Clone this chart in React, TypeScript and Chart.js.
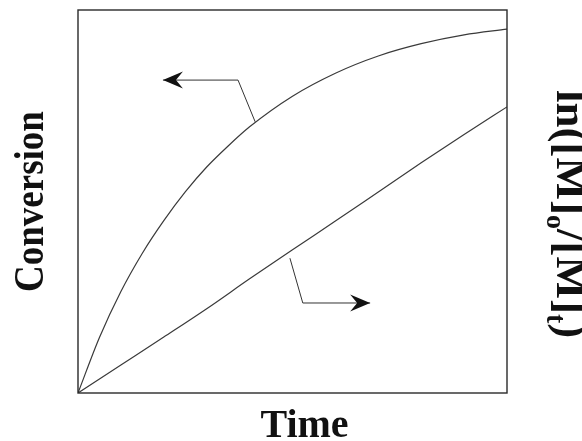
import React, { useEffect, useRef } from "react";
import { Chart, registerables } from "chart.js";

Chart.register(...registerables);

// ---- data ----
const convTime = [0, 0.5, 1, 1.5, 2, 2.5, 3, 3.5, 4, 5, 6, 7, 8, 9, 10];
const conversion = [0, 0.145, 0.265, 0.365, 0.45, 0.525, 0.59, 0.645, 0.695, 0.775, 0.835, 0.88, 0.912, 0.935, 0.95];
const lnTime = [0, 1, 2, 3, 4, 5, 6, 7, 8, 9, 10];
const lnRatio = [0, 0.073, 0.146, 0.22, 0.298, 0.374, 0.449, 0.525, 0.601, 0.675, 0.747];

// arrow annotations (data coordinates: curve point -> elbow -> tip)
const convArrowX = [4.13, 3.73, 1.98];
const convArrowY = [0.708, 0.817, 0.817];
const lnArrowX = [4.94, 5.24, 6.81];
const lnArrowY = [0.352, 0.235, 0.235];

const xTitle = "Time";
const yTitle = "Conversion";
const y2TitleParts = [
  { text: "ln([M]", sub: false },
  { text: "o", sub: true },
  { text: "/[M]", sub: false },
  { text: "t", sub: true },
  { text: ")", sub: false },
];

const FONT = '"Liberation Serif", "Times New Roman", serif';

function drawArrow(chart: any, xs: number[], ys: number[], yAxis: string) {
  const ctx = chart.ctx as CanvasRenderingContext2D;
  const sx = chart.scales.x;
  const sy = chart.scales[yAxis];
  const pts = xs.map((v, i) => [sx.getPixelForValue(v), sy.getPixelForValue(ys[i])]);
  ctx.save();
  ctx.strokeStyle = "#333";
  ctx.lineWidth = 1;
  ctx.beginPath();
  ctx.moveTo(pts[0][0], pts[0][1]);
  for (let i = 1; i < pts.length; i++) ctx.lineTo(pts[i][0], pts[i][1]);
  ctx.stroke();
  const n = pts.length;
  const [tx, ty] = pts[n - 1];
  const [px, py] = pts[n - 2];
  const ang = Math.atan2(ty - py, tx - px);
  ctx.translate(tx, ty);
  ctx.rotate(ang);
  ctx.fillStyle = "#111";
  ctx.beginPath();
  ctx.moveTo(0, 0);
  ctx.lineTo(-20, -8.5);
  ctx.lineTo(-13, 0);
  ctx.lineTo(-20, 8.5);
  ctx.closePath();
  ctx.fill();
  ctx.restore();
}

const decorPlugin = {
  id: "decor",
  afterDatasetsDraw(chart: any) {
    const ctx = chart.ctx as CanvasRenderingContext2D;
    const a = chart.chartArea;
    ctx.save();
    ctx.strokeStyle = "#2a2a2a";
    ctx.lineWidth = 1.4;
    ctx.strokeRect(a.left, a.top, a.right - a.left, a.bottom - a.top);
    ctx.restore();

    drawArrow(chart, convArrowX, convArrowY, "y");
    drawArrow(chart, lnArrowX, lnArrowY, "y2");

    ctx.save();
    ctx.fillStyle = "#111";
    // x title
    ctx.font = `bold 40px ${FONT}`;
    ctx.textAlign = "center";
    ctx.textBaseline = "alphabetic";
    ctx.fillText(xTitle, (a.left + a.right) / 2 + 12, 437);
    // left y title
    ctx.save();
    ctx.translate(43, (a.top + a.bottom) / 2 + 0);
    ctx.rotate(-Math.PI / 2);
    ctx.scale(0.86, 1);
    ctx.font = `bold 43px ${FONT}`;
    ctx.fillText(yTitle, 0, 0);
    ctx.restore();
    // right y title (rotated clockwise, with subscripts)
    ctx.save();
    ctx.translate(557, 90);
    ctx.rotate(Math.PI / 2);
    ctx.textAlign = "left";
    let cx = 0;
    for (const p of y2TitleParts) {
      ctx.font = p.sub ? `bold 28px ${FONT}` : `bold 45px ${FONT}`;
      ctx.fillText(p.text, cx, p.sub ? 10 : 0);
      cx += ctx.measureText(p.text).width;
    }
    ctx.restore();
    ctx.restore();
  },
};

export default function App() {
  const ref = useRef<HTMLCanvasElement | null>(null);
  useEffect(() => {
    document.body.style.margin = "0";
    if (!ref.current) return;
    const chart = new Chart(ref.current, {
      type: "line",
      data: {
        datasets: [
          {
            label: "Conversion",
            data: convTime.map((t, i) => ({ x: t, y: conversion[i] })),
            yAxisID: "y",
            borderColor: "#3a3a3a",
            borderWidth: 1.2,
            pointRadius: 0,
            cubicInterpolationMode: "monotone",
            fill: false,
          },
          {
            label: "ln([M]o/[M]t)",
            data: lnTime.map((t, i) => ({ x: t, y: lnRatio[i] })),
            yAxisID: "y2",
            borderColor: "#3a3a3a",
            borderWidth: 1.2,
            pointRadius: 0,
            cubicInterpolationMode: "monotone",
            fill: false,
          },
        ],
      },
      options: {
        animation: false,
        responsive: false,
        layout: { padding: { left: 78, right: 75, top: 10, bottom: 48 } },
        plugins: { legend: { display: false }, tooltip: { enabled: false } },
        scales: {
          x: { type: "linear", min: 0, max: 10, display: false },
          y: { type: "linear", min: 0, max: 1, display: false },
          y2: { type: "linear", min: 0, max: 1, display: false, position: "right" },
        },
      },
      plugins: [decorPlugin],
    } as any);
    return () => chart.destroy();
  }, []);
  return (
    <div style={{ width: 582, height: 441, background: "#fff" }}>
      <canvas ref={ref} width={582} height={441} />
    </div>
  );
}
